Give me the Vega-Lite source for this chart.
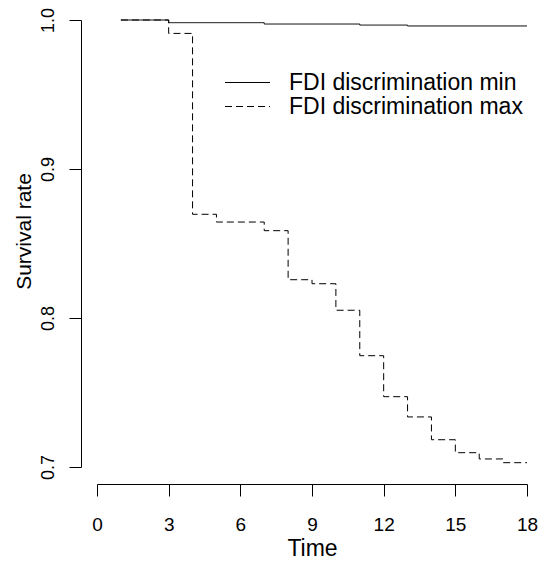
{
  "$schema": "https://vega.github.io/schema/vega-lite/v6.json",
  "width": 430,
  "height": 447,
  "autosize": {"type": "none"},
  "padding": {"left": 97, "top": 20, "right": 15, "bottom": 98},
  "background": "white",
  "config": {"view": {"stroke": null}, "font": "Liberation Sans"},
  "data": {
    "values": [
      {"time": 1, "surv": 1.0, "group": "FDI discrimination min"},
      {"time": 3, "surv": 0.9982, "group": "FDI discrimination min"},
      {"time": 7, "surv": 0.9973, "group": "FDI discrimination min"},
      {"time": 11, "surv": 0.9966, "group": "FDI discrimination min"},
      {"time": 13, "surv": 0.996, "group": "FDI discrimination min"},
      {"time": 18, "surv": 0.996, "group": "FDI discrimination min"},
      {"time": 1, "surv": 1.0, "group": "FDI discrimination max"},
      {"time": 3, "surv": 0.991, "group": "FDI discrimination max"},
      {"time": 4, "surv": 0.8696, "group": "FDI discrimination max"},
      {"time": 5, "surv": 0.8644, "group": "FDI discrimination max"},
      {"time": 7, "surv": 0.8586, "group": "FDI discrimination max"},
      {"time": 8, "surv": 0.8257, "group": "FDI discrimination max"},
      {"time": 9, "surv": 0.823, "group": "FDI discrimination max"},
      {"time": 10, "surv": 0.8052, "group": "FDI discrimination max"},
      {"time": 11, "surv": 0.7747, "group": "FDI discrimination max"},
      {"time": 12, "surv": 0.7472, "group": "FDI discrimination max"},
      {"time": 13, "surv": 0.7336, "group": "FDI discrimination max"},
      {"time": 14, "surv": 0.7183, "group": "FDI discrimination max"},
      {"time": 15, "surv": 0.7096, "group": "FDI discrimination max"},
      {"time": 16, "surv": 0.7054, "group": "FDI discrimination max"},
      {"time": 17, "surv": 0.7029, "group": "FDI discrimination max"},
      {"time": 18, "surv": 0.7029, "group": "FDI discrimination max"}
    ]
  },
  "mark": {"type": "line", "interpolate": "step-after", "strokeWidth": 1, "color": "black", "clip": false},
  "encoding": {
    "x": {
      "field": "time", "type": "quantitative",
      "scale": {"domain": [0, 18], "nice": false, "zero": false},
      "axis": {
        "values": [0, 3, 6, 9, 12, 15, 18],
        "grid": false, "offset": 17, "tickSize": 12,
        "domainColor": "black", "tickColor": "black",
        "labelFontSize": 19, "labelColor": "black", "labelBaseline": "alphabetic",
        "labelPadding": 34, "labelFlush": false, "labelOverlap": false,
        "title": "Time", "titleFontSize": 23, "titleFontWeight": "normal", "titleColor": "black",
        "titleBaseline": "alphabetic", "titleY": 71
      }
    },
    "y": {
      "field": "surv", "type": "quantitative",
      "scale": {"domain": [0.7, 1.0], "nice": false, "zero": false},
      "axis": {
        "values": [0.7, 0.8, 0.9, 1.0], "format": ".1f",
        "grid": false, "offset": 16, "tickSize": 12,
        "domainColor": "black", "tickColor": "black",
        "labelFontSize": 18, "labelColor": "black", "labelAngle": -90,
        "labelAlign": "center", "labelBaseline": "alphabetic", "labelPadding": 16,
        "labelFlush": false, "labelOverlap": false,
        "title": "Survival rate", "titleFontSize": 21, "titleFontWeight": "normal", "titleColor": "black",
        "titleAngle": -90, "titleAlign": "center", "titleBaseline": "alphabetic",
        "titleX": -51, "titleY": 211
      }
    },
    "strokeDash": {
      "field": "group", "type": "nominal",
      "scale": {"domain": ["FDI discrimination min", "FDI discrimination max"], "range": [[1, 0], [7, 4]]},
      "legend": {
        "orient": "none", "legendX": 139, "legendY": 51, "title": null,
        "symbolType": "M-5,0H5", "symbolSize": 81, "symbolStrokeWidth": 1,
        "symbolStrokeColor": "black", "symbolFillColor": "transparent",
        "labelFontSize": 23, "labelColor": "black",
        "labelOffset": 30, "rowPadding": -1, "padding": 0, "labelLimit": 400
      }
    }
  }
}
